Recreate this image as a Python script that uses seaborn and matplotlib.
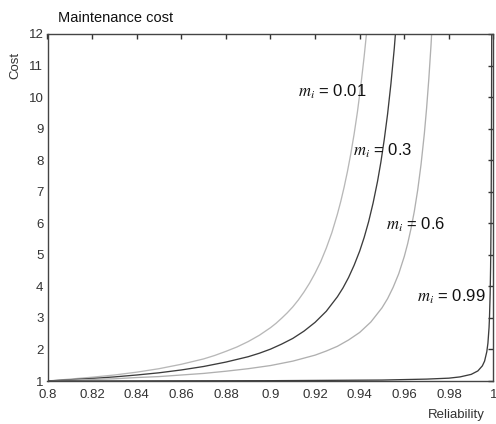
import matplotlib
matplotlib.use("Agg")
import matplotlib.pyplot as plt
import seaborn as sns
import pandas as pd

# ---- data ----
r_m001 = [0.800, 0.820, 0.830, 0.840, 0.850, 0.860, 0.870, 0.875, 0.880, 0.885,
          0.890, 0.895, 0.900, 0.9025, 0.905, 0.9075, 0.910, 0.9125, 0.915, 0.9175,
          0.920, 0.9225, 0.925, 0.9275, 0.930, 0.9315, 0.933, 0.9345, 0.936, 0.9375,
          0.939, 0.9405, 0.942, 0.943, 0.944]
c_m001 = [1.00, 1.12, 1.19, 1.28, 1.39, 1.53, 1.70, 1.81, 1.94, 2.08,
          2.25, 2.45, 2.69, 2.83, 2.99, 3.16, 3.35, 3.57, 3.82, 4.10,
          4.42, 4.78, 5.21, 5.70, 6.29, 6.69, 7.14, 7.64, 8.20, 8.83,
          9.54, 10.36, 11.29, 11.98, 12.75]

r_m03 = [0.800, 0.820, 0.830, 0.840, 0.850, 0.860, 0.870, 0.880, 0.890, 0.895,
         0.900, 0.905, 0.910, 0.915, 0.920, 0.925, 0.930, 0.9325, 0.935, 0.9375,
         0.940, 0.942, 0.944, 0.946, 0.948, 0.9495, 0.951, 0.9525, 0.954, 0.9555,
         0.957]
c_m03 = [1.00, 1.08, 1.13, 1.19, 1.26, 1.35, 1.46, 1.60, 1.77, 1.88,
         2.01, 2.17, 2.35, 2.58, 2.86, 3.21, 3.67, 3.95, 4.28, 4.67,
         5.12, 5.55, 6.05, 6.64, 7.33, 7.94, 8.65, 9.46, 10.42, 11.54,
         12.88]

r_m06 = [0.800, 0.820, 0.830, 0.840, 0.850, 0.860, 0.870, 0.880, 0.890, 0.900,
         0.910, 0.920, 0.925, 0.930, 0.935, 0.940, 0.945, 0.950, 0.9525, 0.955,
         0.9575, 0.960, 0.9615, 0.963, 0.9645, 0.966, 0.9675, 0.969, 0.970, 0.971,
         0.972, 0.973]
c_m06 = [1.00, 1.05, 1.07, 1.11, 1.14, 1.19, 1.24, 1.31, 1.39, 1.49,
         1.63, 1.82, 1.95, 2.10, 2.30, 2.54, 2.87, 3.32, 3.61, 3.97,
         4.40, 4.95, 5.35, 5.83, 6.38, 7.05, 7.86, 8.85, 9.65, 10.58,
         11.67, 12.97]

r_m099 = [0.800, 0.900, 0.950, 0.970, 0.980, 0.985, 0.990, 0.993, 0.995, 0.996,
          0.997, 0.9975, 0.998, 0.9982, 0.9985, 0.9987, 0.9988, 0.9989, 0.9990,
          0.9991, 0.9992]
c_m099 = [1.00, 1.01, 1.03, 1.06, 1.09, 1.13, 1.21, 1.32, 1.48, 1.63,
          1.93, 2.20, 2.69, 3.01, 3.76, 4.61, 5.24, 6.10, 7.32,
          9.14, 12.06]

series_names = ["0.01", "0.3", "0.6", "0.99"]
x_ticks = [0.80, 0.82, 0.84, 0.86, 0.88, 0.90, 0.92, 0.94, 0.96, 0.98, 1.00]
x_ticklabels = ["0.8", "0.82", "0.84", "0.86", "0.88", "0.9", "0.92", "0.94",
                "0.96", "0.98", "1"]
y_ticks = [1, 2, 3, 4, 5, 6, 7, 8, 9, 10, 11, 12]

# label anchor positions (reliability, cost) for each m_i annotation
label_pos = {"0.01": (0.9122, 10.03), "0.3": (0.9369, 8.16),
             "0.6": (0.9517, 5.79), "0.99": (0.9655, 3.51)}

frames = []
for name, rr, cc in zip(series_names, [r_m001, r_m03, r_m06, r_m099],
                        [c_m001, c_m03, c_m06, c_m099]):
    frames.append(pd.DataFrame({"Reliability": rr, "Cost": cc, "m": name}))
df = pd.concat(frames, ignore_index=True)

sns.set_style("white")
plt.rcParams["font.family"] = ["Liberation Sans", "DejaVu Sans"]
plt.rcParams["mathtext.fontset"] = "stix"

fig = plt.figure(figsize=(4.96, 4.24), dpi=100)
ax = fig.add_axes([47.5 / 496, 1 - 381 / 424, (493.5 - 47.5) / 496, (381 - 34) / 424])

palette = {"0.01": "#b8b8b8", "0.3": "#3c3c3c", "0.6": "#b0b0b0", "0.99": "#3c3c3c"}
sns.lineplot(data=df, x="Reliability", y="Cost", hue="m", palette=palette,
             estimator=None, sort=False, legend=False, linewidth=0.95, ax=ax)

ax.set_xlim(0.8, 1.0)
ax.set_ylim(1, 12)
ax.set_xticks(x_ticks)
ax.set_xticklabels(x_ticklabels)
ax.set_yticks(y_ticks)
ax.set_yticklabels([str(v) for v in y_ticks])
ax.set_xlabel("")
ax.set_ylabel("")

ax.tick_params(axis="both", direction="in", length=3.5, width=1.0,
               color="#333333", labelsize=9.5, labelcolor="#333333",
               top=True, right=True)
ax.tick_params(axis="x", pad=5.5)
ax.tick_params(axis="y", pad=3)
for sp in ax.spines.values():
    sp.set_color("#444444")
    sp.set_linewidth(1.0)

for name in series_names:
    x, y = label_pos[name]
    ax.text(x, y, r"$m_i$ = " + name, ha="left", va="baseline",
            fontsize=12, color="#111111")

fig.text(58 / 496, 1 - 18 / 424, "Maintenance cost", ha="left", va="center",
         fontsize=10.5, color="#111111")
fig.text(15 / 496, 1 - 65 / 424, "Cost", ha="center", va="center",
         rotation=90, fontsize=9.5, color="#333333")
fig.text(456.7 / 496, 1 - 415 / 424, "Reliability", ha="center", va="center",
         fontsize=9.5, color="#333333")

fig.savefig("out.png", dpi=100)
